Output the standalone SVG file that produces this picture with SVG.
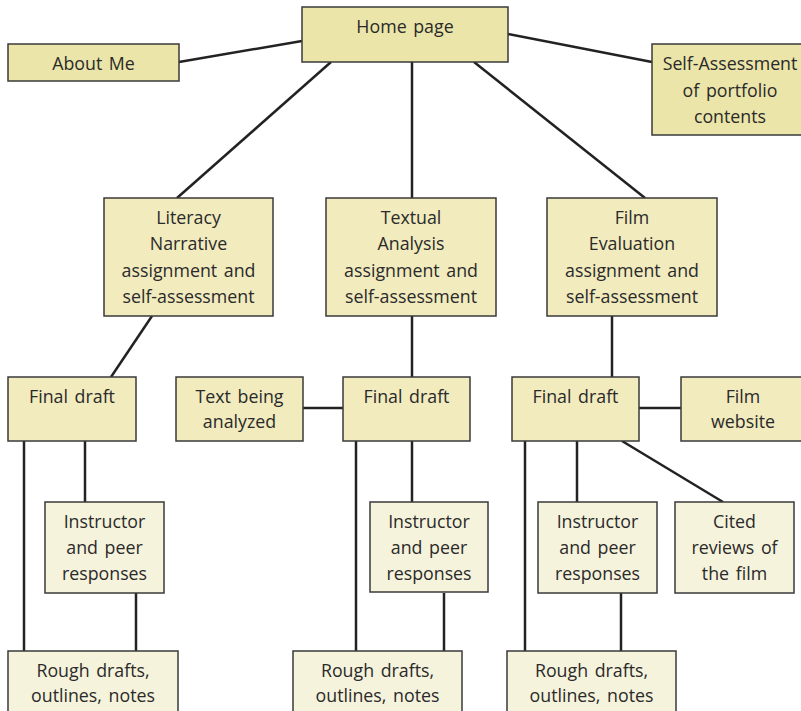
<svg xmlns="http://www.w3.org/2000/svg" width="801" height="711" viewBox="0 0 801 711">
  <style>
    .box rect { stroke: #3a3a3a; stroke-width: 1.5; }
    .top rect { fill: #ebe5a9; }
    .mid rect { fill: #f1ebbe; }
    .low rect { fill: #f6f3dc; }
    text { font-family: "Open Sans", "Noto Sans", "Liberation Sans", sans-serif; font-size: 17.8px; word-spacing: 2px; fill: #2a2a2a; text-anchor: middle; }
    #connectors line { stroke: #222; stroke-width: 2.5; stroke-linecap: butt; }
  </style>
  <rect width="801" height="711" fill="#ffffff"/>

  <g id="connectors">
    <line x1="179" y1="62" x2="302" y2="41"/>
    <line x1="508" y1="34" x2="652" y2="62"/>
    <line x1="331" y1="62" x2="177" y2="198"/>
    <line x1="412" y1="62" x2="412" y2="198"/>
    <line x1="474" y1="62" x2="645" y2="198"/>
    <line x1="152" y1="316" x2="111" y2="377"/>
    <line x1="412" y1="316" x2="412" y2="377"/>
    <line x1="612" y1="316" x2="612" y2="377"/>
    <line x1="303" y1="408" x2="343" y2="408"/>
    <line x1="639" y1="408" x2="681" y2="408"/>
    <line x1="24" y1="441" x2="24" y2="651"/>
    <line x1="85" y1="441" x2="85" y2="502"/>
    <line x1="136" y1="593" x2="136" y2="651"/>
    <line x1="356" y1="441" x2="356" y2="651"/>
    <line x1="412" y1="441" x2="412" y2="502"/>
    <line x1="444" y1="593" x2="444" y2="651"/>
    <line x1="525" y1="441" x2="525" y2="651"/>
    <line x1="577" y1="441" x2="577" y2="502"/>
    <line x1="621" y1="593" x2="621" y2="651"/>
    <line x1="622" y1="441" x2="723" y2="502"/>
  </g>

  <g id="home" class="box top">
    <rect x="302" y="7" width="206" height="55"/>
    <text x="405" y="33">Home page</text>
  </g>
  <g id="about" class="box top">
    <rect x="8" y="44" width="171" height="37"/>
    <text x="93.5" y="70">About Me</text>
  </g>
  <g id="self-assessment" class="box top">
    <rect x="652" y="44" width="156" height="91"/>
    <text x="730" y="70">Self-Assessment</text>
    <text x="730" y="97">of portfolio</text>
    <text x="730" y="123">contents</text>
  </g>

  <g id="literacy" class="box mid">
    <rect x="104" y="198" width="169" height="118"/>
    <text x="188.5" y="224">Literacy</text>
    <text x="188.5" y="250">Narrative</text>
    <text x="188.5" y="277">assignment and</text>
    <text x="188.5" y="303">self-assessment</text>
  </g>
  <g id="textual" class="box mid">
    <rect x="326" y="198" width="170" height="118"/>
    <text x="411" y="224">Textual</text>
    <text x="411" y="250">Analysis</text>
    <text x="411" y="277">assignment and</text>
    <text x="411" y="303">self-assessment</text>
  </g>
  <g id="film" class="box mid">
    <rect x="547" y="198" width="170" height="118"/>
    <text x="632" y="224">Film</text>
    <text x="632" y="250">Evaluation</text>
    <text x="632" y="277">assignment and</text>
    <text x="632" y="303">self-assessment</text>
  </g>

  <g id="final1" class="box mid">
    <rect x="8" y="377" width="128" height="64"/>
    <text x="72" y="403">Final draft</text>
  </g>
  <g id="text-analyzed" class="box mid">
    <rect x="176" y="377" width="127" height="64"/>
    <text x="239.5" y="403">Text being</text>
    <text x="239.5" y="428">analyzed</text>
  </g>
  <g id="final2" class="box mid">
    <rect x="343" y="377" width="127" height="64"/>
    <text x="406.5" y="403">Final draft</text>
  </g>
  <g id="final3" class="box mid">
    <rect x="512" y="377" width="127" height="64"/>
    <text x="575.5" y="403">Final draft</text>
  </g>
  <g id="film-website" class="box mid">
    <rect x="681" y="377" width="126" height="64"/>
    <text x="743" y="403">Film</text>
    <text x="743" y="428">website</text>
  </g>

  <g id="responses1" class="box low">
    <rect x="45" y="502" width="119" height="91"/>
    <text x="104.5" y="528">Instructor</text>
    <text x="104.5" y="554">and peer</text>
    <text x="104.5" y="580">responses</text>
  </g>
  <g id="responses2" class="box low">
    <rect x="370" y="502" width="118" height="90"/>
    <text x="429" y="528">Instructor</text>
    <text x="429" y="554">and peer</text>
    <text x="429" y="580">responses</text>
  </g>
  <g id="responses3" class="box low">
    <rect x="538" y="502" width="119" height="91"/>
    <text x="597.5" y="528">Instructor</text>
    <text x="597.5" y="554">and peer</text>
    <text x="597.5" y="580">responses</text>
  </g>
  <g id="cited-reviews" class="box low">
    <rect x="675" y="502" width="119" height="91"/>
    <text x="734.5" y="528">Cited</text>
    <text x="734.5" y="554">reviews of</text>
    <text x="734.5" y="580">the film</text>
  </g>

  <g id="rough1" class="box low">
    <rect x="8" y="651" width="170" height="70"/>
    <text x="93" y="677">Rough drafts,</text>
    <text x="93" y="702">outlines, notes</text>
  </g>
  <g id="rough2" class="box low">
    <rect x="293" y="651" width="169" height="70"/>
    <text x="377.5" y="677">Rough drafts,</text>
    <text x="377.5" y="702">outlines, notes</text>
  </g>
  <g id="rough3" class="box low">
    <rect x="507" y="651" width="169" height="70"/>
    <text x="591.5" y="677">Rough drafts,</text>
    <text x="591.5" y="702">outlines, notes</text>
  </g>
</svg>
